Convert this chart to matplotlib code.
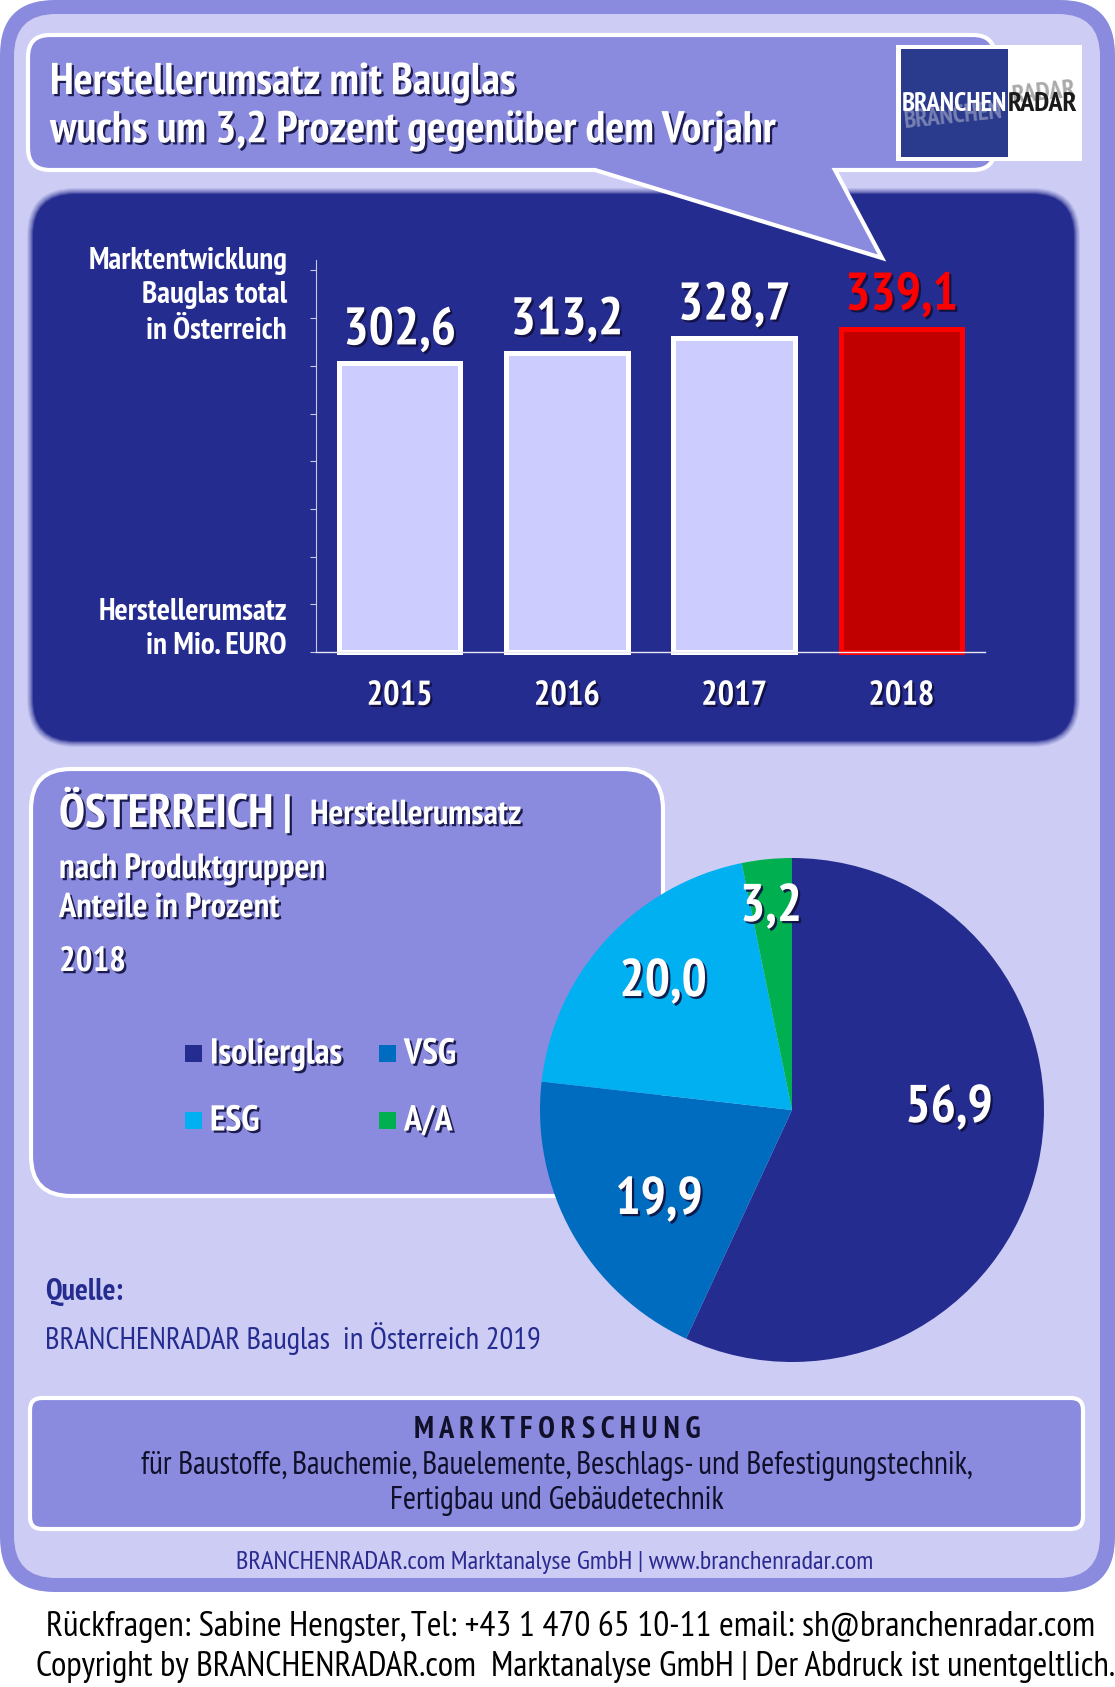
import matplotlib
matplotlib.use('Agg')
import matplotlib.pyplot as plt
import matplotlib.patheffects as pe
from matplotlib.patches import FancyBboxPatch, PathPatch, Rectangle
from matplotlib.path import Path

W, H = 1115, 1687

years = ['2015', '2016', '2017', '2018']
revenue = [302.6, 313.2, 328.7, 339.1]
segments = ['Isolierglas', 'VSG', 'ESG', 'A/A']
shares = [56.9, 19.9, 20.0, 3.2]
share_colors = ['#252C8F', '#006CC0', '#00B0F0', '#00B050']
tick_values = [0, 50, 100, 150, 200, 250, 300, 350, 400]

LILAC = '#8A8ADF'
PALE = '#CCCCF5'
NAVY = '#252C8F'

# narrow face first, Liberation as the fallback if it is not there
plt.rcParams['font.family'] = ['PT Sans Narrow', 'Liberation Sans', 'DejaVu Sans']


def px(size):
    # font size given in image pixels
    return size * 0.72


def comma(v):
    return f'{v:.1f}'.replace('.', ',')


def fig_rect(x0, y0, x1, y1):
    return [x0 / W, 1 - y1 / H, (x1 - x0) / W, (y1 - y0) / H]


def round_box(ax, x0, y0, x1, y1, r, fc, ec='none', lw=0, **kw):
    p = FancyBboxPatch((x0, y0), x1 - x0, y1 - y0, boxstyle=f'round,pad=0,rounding_size={r}',
                       fc=fc, ec=ec, lw=lw, **kw)
    ax.add_patch(p)
    return p


shadow = [pe.withSimplePatchShadow(offset=(1.6, -1.6), shadow_rgbFace='#101040', alpha=0.9)]

fig = plt.figure(figsize=(W / 100, H / 100), dpi=100, facecolor='white')

bg = fig.add_axes([0, 0, 1, 1], zorder=0)
bg.set_xlim(0, W)
bg.set_ylim(H, 0)
bg.axis('off')

# frame
round_box(bg, 0, 0, W, 1592, 55, LILAC)
round_box(bg, 14, 14, 1100, 1578, 42, PALE)

# dark panel with soft edge
for g, a in zip([6, 5, 4, 3, 2, 1, 0], [0.1, 0.12, 0.15, 0.2, 0.3, 0.5, 1.0]):
    round_box(bg, 33 - g, 194 - g, 1074 + g, 741 + g, 42 + g, NAVY, alpha=a)

# speech bubble
x0, y0, x1, y1, r = 28, 35, 995, 170, 22
verts = [(x0 + r, y0), (x1 - r, y0), (x1, y0), (x1, y0 + r), (x1, y1 - r), (x1, y1), (x1 - r, y1),
         (835, y1), (882, 258), (595, y1), (x0 + r, y1), (x0, y1), (x0, y1 - r), (x0, y0 + r), (x0, y0), (x0 + r, y0)]
codes = [Path.MOVETO, Path.LINETO, Path.CURVE3, Path.CURVE3, Path.LINETO, Path.CURVE3, Path.CURVE3,
         Path.LINETO, Path.LINETO, Path.LINETO, Path.LINETO, Path.CURVE3, Path.CURVE3, Path.LINETO, Path.CURVE3, Path.CURVE3]
bg.add_patch(PathPatch(Path(verts, codes), fc=LILAC, ec='white', lw=3, joinstyle='miter'))

# lower boxes
round_box(bg, 31, 769, 663, 1196, 40, LILAC, ec='white', lw=3)
round_box(bg, 30, 1398, 1083, 1529, 12, LILAC, ec='white', lw=3)

# bar chart
ax = fig.add_axes(fig_rect(316, 260, 985, 652), zorder=1)
ax.patch.set_alpha(0)
bars = ax.bar(years, revenue, width=0.725, color='#CCCCFF', edgecolor='white', linewidth=3.6, clip_on=False)
bars[3].set_facecolor('#C00000')
bars[3].set_edgecolor('#FF0000')
ax.set_xlim(-0.5, 3.5)
ax.set_ylim(0, 411)
ax.set_yticks(tick_values)
ax.set_yticklabels([])
ax.tick_params(axis='y', color='#C8C8E0', length=4, width=0.8)
ax.tick_params(axis='x', length=0, colors='white', pad=20, labelsize=px(34.5))
for t in ax.get_xticklabels():
    t.set_fontweight('bold')
    t.set_path_effects(shadow)
for s in ['top', 'right']:
    ax.spines[s].set_visible(False)
ax.spines['left'].set_color('#C8C8E0')
ax.spines['left'].set_linewidth(0.8)
ax.spines['bottom'].set_color('#E8E8F5')
ax.spines['bottom'].set_linewidth(1)
for i, v in enumerate(revenue):
    col = '#FF0000' if i == 3 else 'white'
    ax.annotate(comma(v), (i, v), xytext=(0, 23), textcoords='offset points', ha='center', va='center',
                color=col, fontsize=px(53), fontweight='bold', path_effects=shadow)

# pie chart
cx, cy, rad = 792, 1110, 252
pie_ax = fig.add_axes(fig_rect(cx - rad, cy - rad, cx + rad, cy + rad), zorder=2)
pie_ax.pie(shares, colors=share_colors, startangle=90, counterclock=False, radius=1)
pie_ax.set_xlim(-1, 1)
pie_ax.set_ylim(-1, 1)

ov = fig.add_axes([0, 0, 1, 1], zorder=3)
ov.set_xlim(0, W)
ov.set_ylim(H, 0)
ov.axis('off')
ov.patch.set_alpha(0)

# pie labels
label_pos = [(949, 1109), (659, 1201), (663, 983), (771, 908)]
for v, (lx, ly) in zip(shares, label_pos):
    ov.text(lx, ly, comma(v), ha='center', va='center', color='white', fontsize=px(53), fontweight='bold',
            path_effects=shadow)

# title
ov.text(50, 83, 'Herstellerumsatz mit Bauglas', color='white', fontsize=px(44.5), fontweight='bold', va='center', path_effects=shadow)
ov.text(50, 131, 'wuchs um 3,2 Prozent gegenüber dem Vorjahr', color='white', fontsize=px(44.5), fontweight='bold', va='center', path_effects=shadow)

# logo
ov.add_patch(Rectangle((896, 45), 186, 116, fc='white', ec='none'))
ov.add_patch(Rectangle((901, 49), 107, 108, fc='#2A3A8C', ec='none'))
ov.text(903, 116, 'BRANCHEN', color='#8C93BC', fontsize=px(25), fontweight='bold', va='center', rotation=6, alpha=0.8)
ov.text(1011, 93, 'RADAR', color='#AAAAAA', fontsize=px(26), fontweight='bold', va='center', rotation=6)
ov.text(902, 104, 'BRANCHEN', color='white', fontsize=px(26.5), fontweight='bold', va='center')
ov.text(1008, 104, 'RADAR', color='#1a1a1a', fontsize=px(28), fontweight='bold', va='center')

# left labels of the bar chart
for s, y in [('Marktentwicklung', 261), ('Bauglas total', 295), ('in Österreich', 331),
             ('Herstellerumsatz', 612), ('in Mio. EURO', 646)]:
    ov.text(287, y, s, color='white', fontsize=px(31), fontweight='bold', ha='right', va='center')

# second panel
ov.text(59, 813, 'ÖSTERREICH |', color='white', fontsize=px(47), fontweight='bold', va='center', path_effects=shadow)
ov.text(310, 815, 'Herstellerumsatz', color='white', fontsize=px(34.8), fontweight='bold', va='center', path_effects=shadow)
ov.text(59, 869, 'nach Produktgruppen', color='white', fontsize=px(35), fontweight='bold', va='center', path_effects=shadow)
ov.text(59, 908, 'Anteile in Prozent', color='white', fontsize=px(34.5), fontweight='bold', va='center', path_effects=shadow)
ov.text(59, 962, '2018', color='white', fontsize=px(35), fontweight='bold', va='center', path_effects=shadow)

# legend
leg_pos = [(185, 1045), (379, 1045), (185, 1112), (379, 1112)]
for name, c, (lx, ly) in zip(segments, share_colors, leg_pos):
    ov.add_patch(Rectangle((lx, ly), 17, 17, fc=c, ec='none'))
    ov.text(lx + 25, ly + 9, name, color='white', fontsize=px(36), fontweight='bold', va='center', path_effects=shadow)

# source
ov.text(45, 1292, 'Quelle:', color=NAVY, fontsize=px(30), fontweight='bold', va='center')
ov.text(45, 1339, 'BRANCHENRADAR Bauglas  in Österreich 2019', color=NAVY, fontsize=px(30.8), va='center')

# bottom box
ov.text(557, 1430, 'M A R K T F O R S C H U N G', color='#10102a', fontsize=px(30), fontweight='bold', ha='center', va='center')
ov.text(557, 1466, 'für Baustoffe, Bauchemie, Bauelemente, Beschlags- und Befestigungstechnik,', color='#10102a', fontsize=px(31.7), ha='center', va='center')
ov.text(557, 1501, 'Fertigbau und Gebäudetechnik', color='#10102a', fontsize=px(31.6), ha='center', va='center')
ov.text(555, 1562, 'BRANCHENRADAR.com Marktanalyse GmbH | www.branchenradar.com', color='#2A2A90', fontsize=px(26.4), ha='center', va='center')

# footer
ov.text(46, 1627, 'Rückfragen: Sabine Hengster, Tel: +43 1 470 65 10-11 email: sh@branchenradar.com', color='black', fontsize=px(35.5), va='center')
ov.text(36, 1667, 'Copyright by BRANCHENRADAR.com  Marktanalyse GmbH | Der Abdruck ist unentgeltlich.', color='black', fontsize=px(35.3), va='center')

fig.savefig('out.png', dpi=100)
